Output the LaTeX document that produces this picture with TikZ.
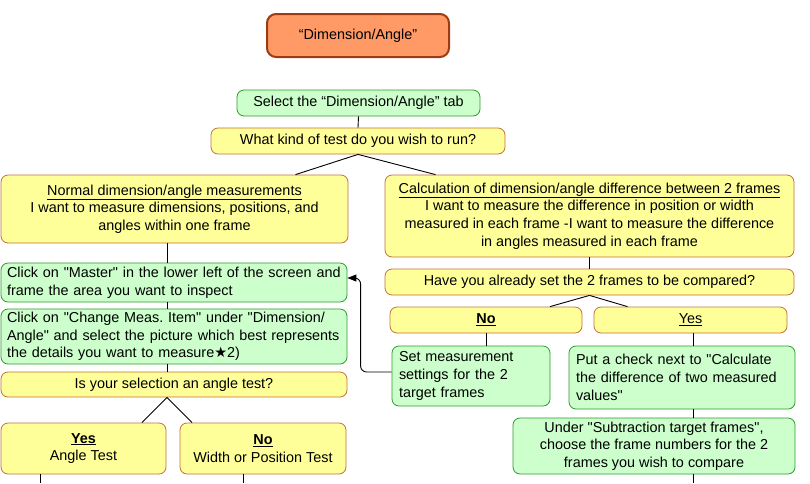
\documentclass[tikz,border=0pt]{standalone}
\usepackage{fontspec}
\setmainfont{Liberation Sans}[Ligatures=TeXOff]
\newfontfamily\symfont{DejaVu Sans}
\usetikzlibrary{arrows.meta, calc}

\definecolor{boxyellow}{HTML}{FFFF99}
\definecolor{edgeyellow}{HTML}{C4703A}
\definecolor{boxgreen}{HTML}{CCFFCC}
\definecolor{edgegreen}{HTML}{2E9A2E}
\definecolor{boxorange}{HTML}{FF9966}
\definecolor{edgeorange}{HTML}{9E3B10}

\tikzset{
    base/.style={rounded corners=7pt, inner sep=0pt, font=\fontsize{14.4}{17.7}\selectfont},
    question/.style={base, draw=edgeyellow, fill=boxyellow, line width=0.8pt, align=center},
    action/.style={base, draw=edgegreen, fill=boxgreen, line width=0.8pt},
    titlebox/.style={base, draw=edgeorange, fill=boxorange, line width=2pt, rounded corners=9pt},
    link/.style={line width=0.9pt},
}

\begin{document}
\begin{tikzpicture}[x=1pt, y=-1pt]

    \useasboundingbox (0,0) rectangle (810,483);

    % --- Top of the chart ---
    \node[titlebox, minimum width=182pt, minimum height=43pt] (title) at (358,35.5) {“Dimension/Angle”};
    \node[action, align=center, minimum width=243pt, minimum height=26pt] (selecttab) at (358.5,103) {Select the “Dimension/Angle” tab};
    \node[question, minimum width=294pt, minimum height=26pt] (testkind) at (358,141) {What kind of test do you wish to run?};

    % --- Left branch: measurements within one frame ---
    \node[question, minimum width=347pt, minimum height=68pt] (normal) at (174.5,209)
        {\underline{Normal dimension/angle measurements}\\I want to measure dimensions, positions, and\\angles within one frame};
    \node[action, align=left, text width=334pt, minimum width=346pt, minimum height=39pt] (master) at (174,282.5)
        {Click on "Master" in the lower left of the screen and\\frame the area you want to inspect};
    \node[action, align=left, text width=334pt, minimum width=346pt, minimum height=55pt] (changeitem) at (174,336.5)
        {Click on "Change Meas.\ Item" under "Dimension/\\Angle" and select the picture which best represents\\the details you want to measure{\symfont ★}2)};
    \node[question, minimum width=346pt, minimum height=25pt] (angleq) at (174,384.5) {Is your selection an angle test?};
    \node[question, minimum width=165pt, minimum height=51pt] (angleyes) at (83.5,448.5) {\textbf{\underline{Yes}}\\Angle Test};
    \node[question, minimum width=166pt, minimum height=51pt] (angleno) at (263,448.5) {\textbf{\underline{No}}\\Width or Position Test};

    % --- Right branch: difference between 2 frames ---
    \node[question, minimum width=409pt, minimum height=82pt] (calcdiff) at (589.5,216)
        {\underline{Calculation of dimension/angle difference between 2 frames}\\I want to measure the difference in position or width\\measured in each frame -I want to measure the difference\\in angles measured in each frame};
    \node[question, minimum width=409pt, minimum height=26pt] (haveset) at (589.5,282) {Have you already set the 2 frames to be compared?};
    \node[question, minimum width=192pt, minimum height=26pt] (nobox) at (486,320) {\textbf{\underline{No}}};
    \node[question, minimum width=193pt, minimum height=26pt] (yesbox) at (690.5,320) {\underline{Yes}};
    \node[action, align=left, text width=144pt, minimum width=158pt, minimum height=60pt] (setframes) at (471,376)
        {Set measurement\\settings for the 2\\target frames};
    \node[action, align=left, text width=212pt, minimum width=226pt, minimum height=63pt] (putcheck) at (682,377.5)
        {Put a check next to "Calculate\\the difference of two measured\\values"};
    \node[action, align=center, minimum width=282pt, minimum height=56pt] (subframes) at (654,446)
        {Under "Subtraction target frames",\\choose the frame numbers for the 2\\frames you wish to compare};

    % --- Helper coordinates ---
    \coordinate (spine) at (167,0);
    \coordinate (yesout) at (40,483);
    \coordinate (noout) at (243,483);
    \coordinate (subout) at (693,483);

    % --- Connectors ---
    \draw[link] (selecttab.south) -- (testkind.north);
    \draw[link] (testkind.south) -- ([xshift=121pt]normal.north);
    \draw[link] (testkind.south) -- ([xshift=-154pt]calcdiff.north);

    \draw[link] (normal.south -| spine) -- (master.north -| spine);
    \draw[link] (master.south -| spine) -- (changeitem.north -| spine);
    \draw[link] (changeitem.south -| spine) -- (angleq.north -| spine);
    \draw[link] (angleq.south -| spine) -- ([xshift=58.5pt]angleyes.north);
    \draw[link] (angleq.south -| spine) -- ([xshift=-71pt]angleno.north);
    \draw[link] (angleyes.south -| yesout) -- (yesout);
    \draw[link] (angleno.south -| noout) -- (noout);

    \draw[link] (calcdiff.south) -- (haveset.north);
    \draw[link] (haveset.south) -- ([xshift=64pt]nobox.north);
    \draw[link] (haveset.south) -- ([xshift=-63pt]yesbox.north);
    \draw[link] (nobox.south) -- (nobox.south |- setframes.north);
    \draw[link] (yesbox.south -| subout) -- (putcheck.north -| subout);
    \draw[link] (putcheck.south -| subout) -- (subframes.north -| subout);
    \draw[link] (subframes.south -| subout) -- (subout);

    % back to the master frame when the 2 frames are not set yet
    \draw[link, rounded corners=6pt, -{Triangle[length=9pt, width=7pt]}]
        ([yshift=4pt]setframes.west) -- ++(-31,0) |- ([yshift=4.5pt]master.east);

\end{tikzpicture}
\end{document}
